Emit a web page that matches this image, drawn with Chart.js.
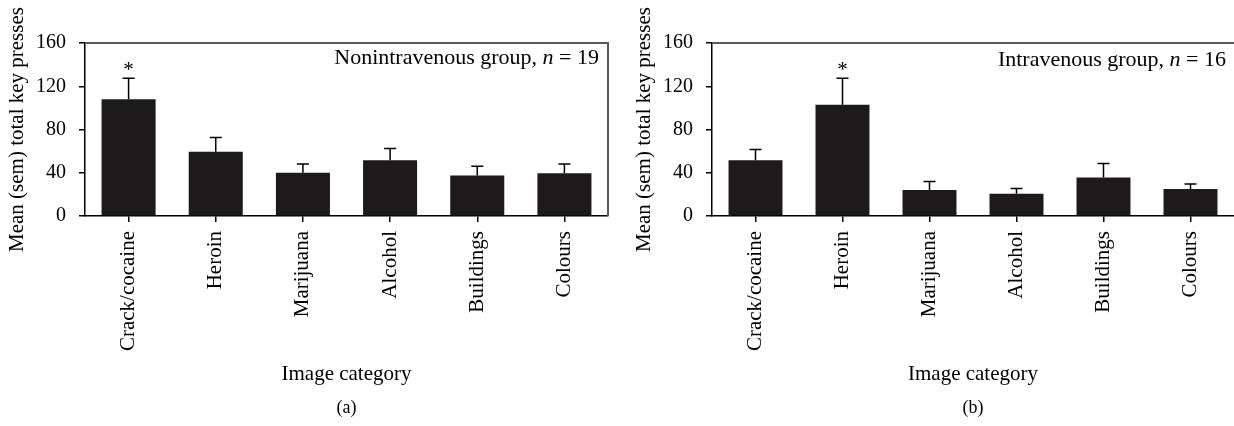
<!DOCTYPE html>
<html>
<head>
  <title>Key presses by image category</title>
  <script src="https://cdn.jsdelivr.net/npm/chart.js"></script>
  <style>
    body {
      margin: 0;
      background-color: #ffffff;
      width: 1234px;
      height: 426px;
      overflow: hidden;
      position: relative;
    }
    .panel {
      position: absolute;
      top: 0;
      height: 426px;
    }
    #panelA { left: 0; width: 627px; }
    #panelB { left: 627px; width: 607px; }
  </style>
</head>
<body>
  <div class="panel" id="panelA"><canvas id="graficoA" width="627" height="426"></canvas></div>
  <div class="panel" id="panelB"><canvas id="graficoB" width="607" height="426"></canvas></div>

  <script>
    var categorias = ["Crack/cocaine", "Heroin", "Marijuana", "Alcohol", "Buildings", "Colours"];
    var yTicks = [0, 40, 80, 120, 160];

    // (a) nonintravenous group
    var mediaA = [108, 59.5, 40, 51.5, 37.5, 39.5];
    var semA = [19.5, 13, 8, 11, 8.5, 8.5];
    var estrelaA = [true, false, false, false, false, false];
    var grupoA = "Nonintravenous group";
    var nA = 19;

    // (b) intravenous group
    var mediaB = [51.5, 103, 24, 20.5, 35.5, 25];
    var semB = [10, 24.5, 8, 5, 13, 4.5];
    var estrelaB = [false, true, false, false, false, false];
    var grupoB = "Intravenous group";
    var nB = 16;

    var fonte = "'Liberation Serif', 'DejaVu Serif', serif";
    var preto = "#1c1a1b";

    // error bars, asterisk, group label, box, panel letter
    var extras = {
      id: "extras",
      afterDatasetsDraw: function (chart, args, opts) {
        var ctx = chart.ctx;
        var area = chart.chartArea;
        var y = chart.scales.y;
        var meta = chart.getDatasetMeta(0);
        ctx.save();

        // box top/right
        ctx.strokeStyle = "#5a5a5a";
        ctx.lineWidth = 2;
        ctx.beginPath();
        ctx.moveTo(area.left, area.top);
        ctx.lineTo(area.right, area.top);
        if (opts.caixaDireita) {
          ctx.lineTo(area.right, area.bottom);
        }
        ctx.stroke();

        ctx.strokeStyle = "#000";
        ctx.lineWidth = 1.5;
        meta.data.forEach(function (bar, i) {
          var topo = y.getPixelForValue(opts.media[i] + opts.sem[i]);
          var base = y.getPixelForValue(opts.media[i]);
          ctx.beginPath();
          ctx.moveTo(bar.x, base);
          ctx.lineTo(bar.x, topo);
          ctx.moveTo(bar.x - 6, topo);
          ctx.lineTo(bar.x + 6, topo);
          ctx.stroke();
          if (opts.estrela[i]) {
            ctx.fillStyle = "#000";
            ctx.font = "21px " + fonte;
            ctx.textAlign = "center";
            ctx.textBaseline = "alphabetic";
            ctx.fillText("*", bar.x, topo - 2);
          }
        });

        // group label: "<grupo>, n = N" with italic n
        ctx.fillStyle = "#000";
        ctx.textBaseline = "alphabetic";
        ctx.textAlign = "left";
        var partes = [
          { t: opts.grupo + ", ", f: "22px " + fonte },
          { t: "n", f: "italic 22px " + fonte },
          { t: " = " + opts.n, f: "22px " + fonte }
        ];
        var total = 0;
        partes.forEach(function (p) { ctx.font = p.f; total += ctx.measureText(p.t).width; });
        var x = area.right - opts.margemTexto - total;
        partes.forEach(function (p) {
          ctx.font = p.f;
          ctx.fillText(p.t, x, area.top + opts.baseTexto);
          x += ctx.measureText(p.t).width;
        });

        // panel letter
        ctx.font = "18px " + fonte;
        ctx.textAlign = "center";
        ctx.textBaseline = "middle";
        ctx.fillText(opts.letra, (area.left + area.right) / 2, 408);
        ctx.restore();
      }
    };

    function criarGrafico(id, media, sem, estrela, grupo, n, letra, direita) {
      var ctx = document.getElementById(id).getContext("2d");
      return new Chart(ctx, {
        type: "bar",
        data: {
          labels: categorias,
          datasets: [{
            data: media,
            backgroundColor: preto,
            borderWidth: 0,
            barPercentage: 0.62,
            categoryPercentage: 1
          }]
        },
        options: {
          responsive: false,
          animation: false,
          devicePixelRatio: 1,
          layout: { padding: { top: 43, right: direita, bottom: 35, left: 0 } },
          plugins: {
            legend: { display: false },
            tooltip: { enabled: false },
            extras: {
              media: media, sem: sem, estrela: estrela, grupo: grupo, n: n,
              letra: letra, caixaDireita: direita > 0,
              margemTexto: direita > 0 ? 9 : 8,
              baseTexto: direita > 0 ? 21 : 23
            }
          },
          scales: {
            x: {
              grid: {
                offset: false,
                drawOnChartArea: false,
                drawTicks: true,
                tickLength: 6,
                color: "#000",
                lineWidth: 1.5
              },
              border: { display: true, color: "#000", width: 1.5 },
              ticks: {
                minRotation: 90,
                maxRotation: 90,
                padding: 9,
                color: "#000",
                font: { family: fonte, size: 21 }
              },
              title: {
                display: true,
                text: "Image category",
                color: "#000",
                font: { family: fonte, size: 21 },
                padding: { top: 4, bottom: 4 }
              },
              afterFit: function (s) { s.height = 426 - 216 - 35; }
            },
            y: {
              min: 0,
              max: 160,
              afterBuildTicks: function (s) {
                s.ticks = yTicks.map(function (v) { return { value: v }; });
              },
              grid: {
                drawOnChartArea: false,
                drawTicks: true,
                tickLength: 6,
                color: "#000",
                lineWidth: 1.5
              },
              border: { display: true, color: "#000", width: 1.5 },
              ticks: {
                padding: 13,
                color: "#000",
                font: { family: fonte, size: 20 }
              },
              title: {
                display: true,
                text: "Mean (sem) total key presses",
                color: "#000",
                font: { family: fonte, size: 21 },
                padding: { top: 5, bottom: 4 }
              },
              afterFit: function (s) { s.width = 85; }
            }
          }
        },
        plugins: [extras]
      });
    }

    criarGrafico("graficoA", mediaA, semA, estrelaA, grupoA, nA, "(a)", 19);
    criarGrafico("graficoB", mediaB, semB, estrelaB, grupoB, nB, "(b)", 0);
  </script>
</body>
</html>
